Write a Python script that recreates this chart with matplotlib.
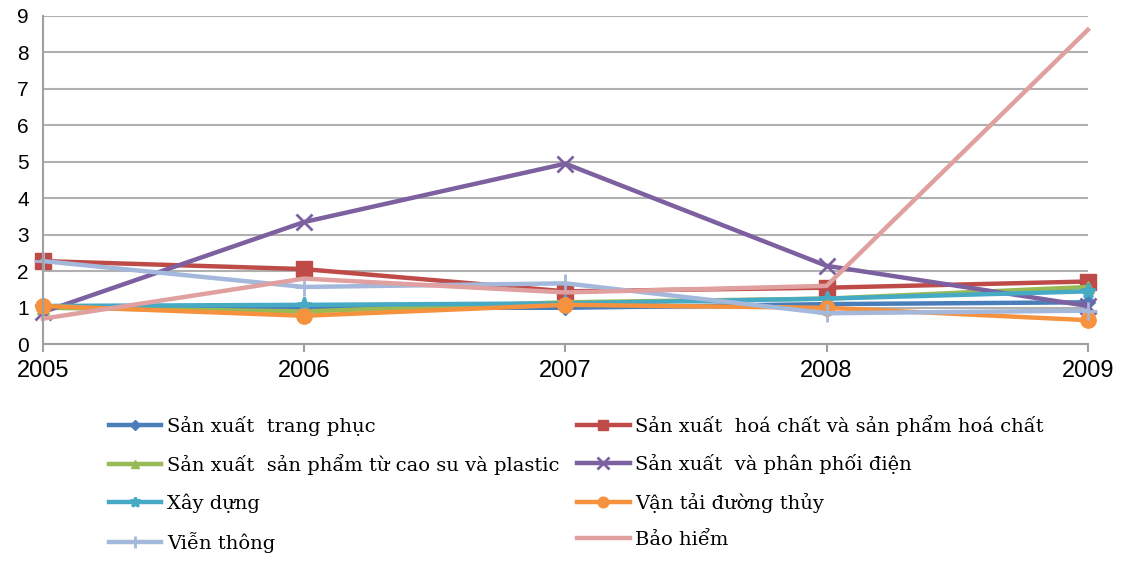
import matplotlib.pyplot as plt

years = [2005, 2006, 2007, 2008, 2009]

names = [
    "Sản xuất  trang phục",
    "Sản xuất  hoá chất và sản phẩm hoá chất",
    "Sản xuất  sản phẩm từ cao su và plastic",
    "Sản xuất  và phân phối điện",
    "Xây dựng",
    "Vận tải đường thủy",
    "Viễn thông",
    "Bảo hiểm",
]

trang_phuc = [1.0, 1.0, 1.0, 1.1, 1.15]
hoa_chat = [2.28, 2.06, 1.45, 1.55, 1.72]
cao_su = [1.0, 0.9, 1.15, 1.25, 1.57]
phan_phoi_dien = [0.88, 3.35, 4.95, 2.15, 1.05]
xay_dung = [1.05, 1.08, 1.12, 1.25, 1.45]
van_tai = [1.05, 0.78, 1.08, 1.0, 0.66]
vien_thong = [2.28, 1.57, 1.67, 0.85, 0.92]
bao_hiem = [0.7, 1.8, 1.42, 1.6, 8.62]

series = [trang_phuc, hoa_chat, cao_su, phan_phoi_dien, xay_dung, van_tai, vien_thong, bao_hiem]
colors = ["#4A7EBB", "#BE4B48", "#98B954", "#7D60A0", "#46AAC5", "#F6923E", "#A3B8DB", "#E0A0A0"]
markers = ["D", "s", "^", "x", "*", "o", "+", None]
msizes = [7, 11, 9, 12, 11, 11, 13, 0]

fig = plt.figure(figsize=(11.25, 5.69), dpi=100)
ax = fig.add_axes([0.038, 0.395, 0.929, 0.577])

handles = []
for vals, name, c, m, ms in zip(series, names, colors, markers, msizes):
    h, = ax.plot(years, vals, color=c, lw=3.2, marker=m, markersize=ms,
                 markeredgewidth=2 if m in ("x", "+", "*") else 1,
                 markeredgecolor=c, label=name, solid_joinstyle="round",
                 clip_on=False)
    handles.append(h)

ax.set_xlim(2005, 2009)
ax.set_ylim(0, 9)
ax.set_yticks(range(0, 10))
ax.set_xticks(years)
ax.grid(axis="y", color="#B0B0B0", lw=1.5)
ax.set_axisbelow(True)
for s in ["top", "right"]:
    ax.spines[s].set_visible(False)
ax.spines["left"].set_color("#A0A0A0")
ax.spines["bottom"].set_color("#A0A0A0")
ax.spines["left"].set_linewidth(1.5)
ax.spines["bottom"].set_linewidth(1.5)
ax.tick_params(axis="y", length=0, labelsize=15, pad=10)
ax.tick_params(axis="x", length=6, color="#A0A0A0", width=1.5, labelsize=17, pad=5)
for lab in ax.get_xticklabels() + ax.get_yticklabels():
    lab.set_fontfamily("Liberation Sans")

# legend is filled row by row, two entries per row
order = [0, 2, 4, 6, 1, 3, 5, 7]
fig.legend([handles[i] for i in order], [names[i] for i in order],
           ncol=2, loc="upper left", bbox_to_anchor=(0.088, 0.288),
           frameon=False, prop={"family": "DejaVu Serif", "size": 14},
           markerscale=0.7, handlelength=2.7, handletextpad=0.3,
           columnspacing=0.9, labelspacing=0.95, borderpad=0)

fig.savefig("out.png", dpi=100)
